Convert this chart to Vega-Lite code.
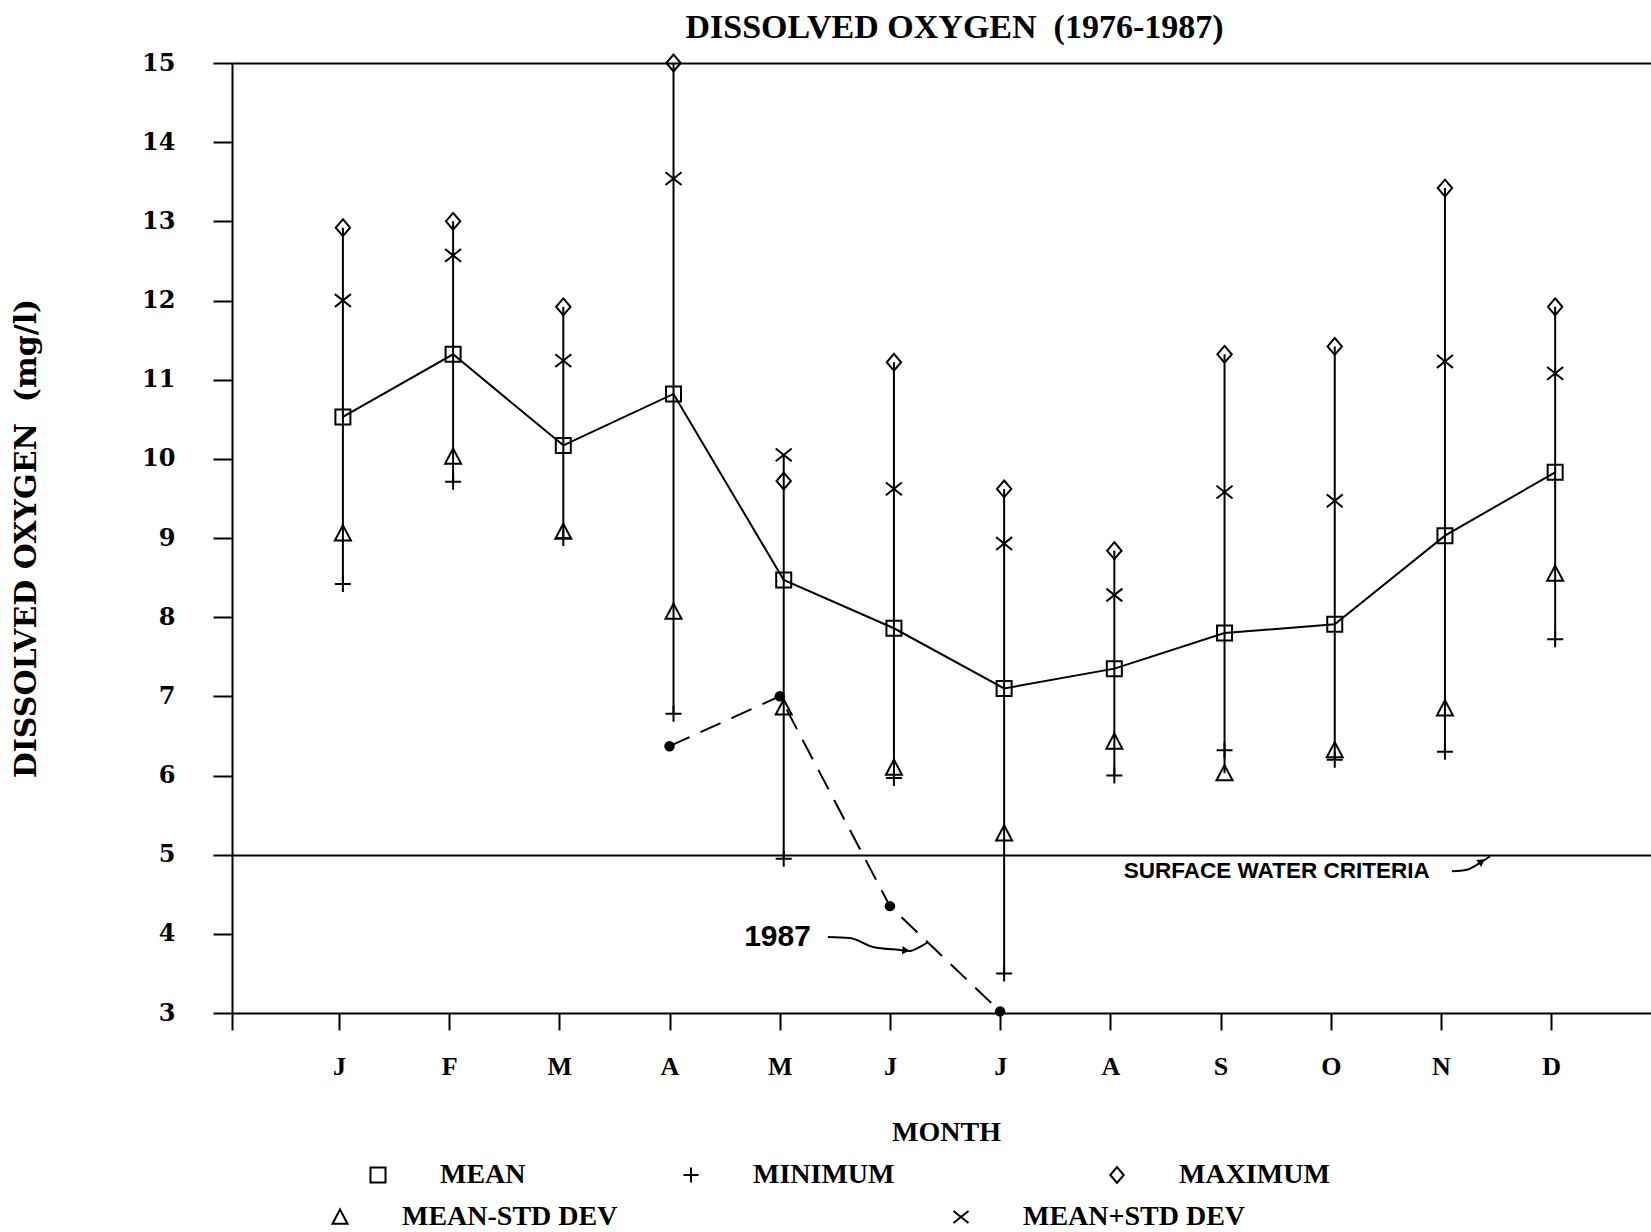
{
  "$schema": "https://vega.github.io/schema/vega-lite/v6.json",
  "width": 1419,
  "height": 950,
  "autosize": {"type": "none"},
  "padding": {"left": 232, "top": 63, "right": 0, "bottom": 219},
  "background": "white",
  "title": {"text": "DISSOLVED OXYGEN \u00a0(1976-1987)", "font": "Liberation Serif", "fontSize": 34, "fontWeight": "bold", "color": "black", "anchor": "middle", "dx": 13, "dy": 31, "offset": 10, "baseline": "alphabetic"},
  "datasets": {
    "stats": [
      {"m": 1, "series": "MEAN", "v": 10.53}, {"m": 1, "series": "MINIMUM", "v": 8.42}, {"m": 1, "series": "MAXIMUM", "v": 12.92}, {"m": 1, "series": "MEAN-STD DEV", "v": 9.06}, {"m": 1, "series": "MEAN+STD DEV", "v": 12.0},
      {"m": 2, "series": "MEAN", "v": 11.32}, {"m": 2, "series": "MINIMUM", "v": 9.71}, {"m": 2, "series": "MAXIMUM", "v": 13.0}, {"m": 2, "series": "MEAN-STD DEV", "v": 10.03}, {"m": 2, "series": "MEAN+STD DEV", "v": 12.57},
      {"m": 3, "series": "MEAN", "v": 10.17}, {"m": 3, "series": "MINIMUM", "v": 9.0}, {"m": 3, "series": "MAXIMUM", "v": 11.92}, {"m": 3, "series": "MEAN-STD DEV", "v": 9.08}, {"m": 3, "series": "MEAN+STD DEV", "v": 11.24},
      {"m": 4, "series": "MEAN", "v": 10.82}, {"m": 4, "series": "MINIMUM", "v": 6.78}, {"m": 4, "series": "MAXIMUM", "v": 15.0}, {"m": 4, "series": "MEAN-STD DEV", "v": 8.07}, {"m": 4, "series": "MEAN+STD DEV", "v": 13.54},
      {"m": 5, "series": "MEAN", "v": 8.47}, {"m": 5, "series": "MINIMUM", "v": 4.95}, {"m": 5, "series": "MAXIMUM", "v": 9.72}, {"m": 5, "series": "MEAN-STD DEV", "v": 6.86}, {"m": 5, "series": "MEAN+STD DEV", "v": 10.05},
      {"m": 6, "series": "MEAN", "v": 7.86}, {"m": 6, "series": "MINIMUM", "v": 5.97}, {"m": 6, "series": "MAXIMUM", "v": 11.22}, {"m": 6, "series": "MEAN-STD DEV", "v": 6.1}, {"m": 6, "series": "MEAN+STD DEV", "v": 9.62},
      {"m": 7, "series": "MEAN", "v": 7.1}, {"m": 7, "series": "MINIMUM", "v": 3.5}, {"m": 7, "series": "MAXIMUM", "v": 9.62}, {"m": 7, "series": "MEAN-STD DEV", "v": 5.27}, {"m": 7, "series": "MEAN+STD DEV", "v": 8.93},
      {"m": 8, "series": "MEAN", "v": 7.35}, {"m": 8, "series": "MINIMUM", "v": 6.0}, {"m": 8, "series": "MAXIMUM", "v": 8.84}, {"m": 8, "series": "MEAN-STD DEV", "v": 6.43}, {"m": 8, "series": "MEAN+STD DEV", "v": 8.28},
      {"m": 9, "series": "MEAN", "v": 7.8}, {"m": 9, "series": "MINIMUM", "v": 6.32}, {"m": 9, "series": "MAXIMUM", "v": 11.32}, {"m": 9, "series": "MEAN-STD DEV", "v": 6.03}, {"m": 9, "series": "MEAN+STD DEV", "v": 9.58},
      {"m": 10, "series": "MEAN", "v": 7.91}, {"m": 10, "series": "MINIMUM", "v": 6.2}, {"m": 10, "series": "MAXIMUM", "v": 11.42}, {"m": 10, "series": "MEAN-STD DEV", "v": 6.32}, {"m": 10, "series": "MEAN+STD DEV", "v": 9.47},
      {"m": 11, "series": "MEAN", "v": 9.03}, {"m": 11, "series": "MINIMUM", "v": 6.3}, {"m": 11, "series": "MAXIMUM", "v": 13.42}, {"m": 11, "series": "MEAN-STD DEV", "v": 6.85}, {"m": 11, "series": "MEAN+STD DEV", "v": 11.23},
      {"m": 12, "series": "MEAN", "v": 9.83}, {"m": 12, "series": "MINIMUM", "v": 7.72}, {"m": 12, "series": "MAXIMUM", "v": 11.92}, {"m": 12, "series": "MEAN-STD DEV", "v": 8.55}, {"m": 12, "series": "MEAN+STD DEV", "v": 11.08}
    ],
    "y1987": [{"m": 4, "v": 6.37}, {"m": 5, "v": 7.0}, {"m": 6, "v": 4.35}, {"m": 7, "v": 3.02}],
    "arrows": [
      {"g": "a", "o": 1, "m": 5.437, "v": 3.96}, {"g": "a", "o": 2, "m": 5.637, "v": 3.948}, {"g": "a", "o": 3, "m": 5.846, "v": 3.834}, {"g": "a", "o": 4, "m": 6.091, "v": 3.796}, {"g": "a", "o": 5, "m": 6.182, "v": 3.784}, {"g": "a", "o": 6, "m": 6.272, "v": 3.834}, {"g": "a", "o": 7, "m": 6.345, "v": 3.897},
      {"g": "b", "o": 1, "m": 11.1, "v": 4.79}, {"g": "b", "o": 2, "m": 11.236, "v": 4.81}, {"g": "b", "o": 3, "m": 11.336, "v": 4.88}, {"g": "b", "o": 4, "m": 11.445, "v": 4.98}
    ]
  },
  "encoding": {
    "x": {
      "field": "m", "type": "quantitative",
      "scale": {"domain": [0.03, 12.906], "nice": false, "zero": false},
      "axis": {
        "title": "MONTH", "values": [0.03, 1, 2, 3, 4, 5, 6, 7, 8, 9, 10, 11, 12],
        "labelExpr": "datum.value < 0.5 ? '' : ['J','F','M','A','M','J','J','A','S','O','N','D'][round(datum.value) - 1]",
        "grid": false, "domainColor": "black", "domainWidth": 2, "tickColor": "black", "tickWidth": 2, "tickSize": 17,
        "labelFont": "Liberation Serif", "labelFontWeight": "bold", "labelFontSize": 26, "labelColor": "black",
        "labelBaseline": "middle", "labelPadding": 36, "labelFlush": false, "labelOverlap": false,
        "titleFont": "Liberation Serif", "titleFontWeight": "bold", "titleFontSize": 28, "titleColor": "black",
        "titleBaseline": "middle", "titleX": 714, "titleY": 119, "titleAlign": "center"
      }
    },
    "y": {
      "field": "v", "type": "quantitative",
      "scale": {"domain": [3, 15], "nice": false, "zero": false},
      "axis": {
        "title": "DISSOLVED OXYGEN \u00a0(mg/l)", "values": [3, 4, 5, 6, 7, 8, 9, 10, 11, 12, 13, 14, 15],
        "grid": true, "gridColor": "black", "gridWidth": 2,
        "gridOpacity": {"condition": {"test": "datum.value === 5 || datum.value === 15", "value": 1}, "value": 0},
        "domainColor": "black", "domainWidth": 2, "tickColor": "black", "tickWidth": 2, "tickSize": 19,
        "labelFont": "DejaVu Serif", "labelFontWeight": "bold", "labelFontSize": 24, "labelColor": "black",
        "labelPadding": 38, "labelFlush": false, "labelOverlap": false,
        "titleFont": "DejaVu Serif", "titleFontWeight": "bold", "titleFontSize": 30, "titleColor": "black",
        "titleAngle": 270, "titleBaseline": "middle", "titleAlign": "center", "titleX": -206, "titleY": 475
      }
    }
  },
  "layer": [
    {
      "data": {"name": "stats"},
      "mark": {"type": "rule", "color": "black", "strokeWidth": 2, "xOffset": 4},
      "encoding": {
        "y": {"aggregate": "min", "field": "v", "type": "quantitative"},
        "y2": {"aggregate": "max", "field": "v"}
      }
    },
    {
      "data": {"name": "stats"},
      "transform": [{"filter": "datum.series === 'MEAN'"}],
      "mark": {"type": "line", "color": "black", "strokeWidth": 2, "xOffset": 4},
      "encoding": {}
    },
    {
      "data": {"name": "stats"},
      "transform": [{"filter": "datum.series === 'MEAN'"}],
      "mark": {"type": "point", "filled": false, "color": "black", "strokeWidth": 2, "size": 225, "opacity": 1, "xOffset": 4},
      "encoding": {"shape": {"field": "series", "type": "nominal", "scale": {"domain": ["MEAN"], "range": ["M-1,-1H1V1H-1Z"]}, "legend": {"title": null, "orient": "none", "legendX": 132, "legendY": 1098}}}
    },
    {
      "data": {"name": "stats"},
      "transform": [{"filter": "datum.series === 'MINIMUM'"}],
      "mark": {"type": "point", "filled": false, "color": "black", "strokeWidth": 2, "size": 256, "opacity": 1, "xOffset": 4},
      "encoding": {"shape": {"field": "series", "type": "nominal", "scale": {"domain": ["MINIMUM"], "range": ["M-1,0H1M0,-1V1"]}, "legend": {"title": null, "orient": "none", "legendX": 445, "legendY": 1098}}}
    },
    {
      "data": {"name": "stats"},
      "transform": [{"filter": "datum.series === 'MAXIMUM'"}],
      "mark": {"type": "point", "filled": false, "color": "black", "strokeWidth": 2, "size": 256, "opacity": 1, "xOffset": 4},
      "encoding": {"shape": {"field": "series", "type": "nominal", "scale": {"domain": ["MAXIMUM"], "range": ["M0,-1.05L0.9,0L0,1.05L-0.9,0Z"]}, "legend": {"title": null, "orient": "none", "legendX": 871, "legendY": 1098}}}
    },
    {
      "data": {"name": "stats"},
      "transform": [{"filter": "datum.series === 'MEAN-STD DEV'"}],
      "mark": {"type": "point", "filled": false, "color": "black", "strokeWidth": 2, "size": 256, "opacity": 1, "xOffset": 4},
      "encoding": {"shape": {"field": "series", "type": "nominal", "scale": {"domain": ["MEAN-STD DEV"], "range": ["M0,-1L1,0.9L-1,0.9Z"]}, "legend": {"title": null, "orient": "none", "legendX": 94, "legendY": 1140}}}
    },
    {
      "data": {"name": "stats"},
      "transform": [{"filter": "datum.series === 'MEAN+STD DEV'"}],
      "mark": {"type": "point", "filled": false, "color": "black", "strokeWidth": 2, "size": 256, "opacity": 1, "xOffset": 4},
      "encoding": {"shape": {"field": "series", "type": "nominal", "scale": {"domain": ["MEAN+STD DEV"], "range": ["M-1,-0.8L1,0.8M-1,0.8L1,-0.8"]}, "legend": {"title": null, "orient": "none", "legendX": 715, "legendY": 1140}}}
    },
    {
      "data": {"name": "y1987"},
      "mark": {"type": "line", "color": "black", "strokeWidth": 2, "strokeDash": [22, 12]},
      "encoding": {}
    },
    {
      "data": {"name": "y1987"},
      "mark": {"type": "circle", "color": "black", "size": 110, "opacity": 1},
      "encoding": {}
    },
    {
      "data": {"name": "arrows"},
      "mark": {"type": "line", "color": "black", "strokeWidth": 2, "interpolate": "monotone"},
      "encoding": {"detail": {"field": "g"}, "order": {"field": "o"}}
    },
    {
      "data": {"values": [{"m": 6.145, "v": 3.79}]},
      "mark": {"type": "point", "shape": "triangle-right", "filled": true, "color": "black", "size": 70, "opacity": 1, "angle": 5},
      "encoding": {}
    },
    {
      "data": {"values": [{"m": 11.37, "v": 4.915}]},
      "mark": {"type": "point", "shape": "triangle-right", "filled": true, "color": "black", "size": 70, "opacity": 1, "angle": -35},
      "encoding": {}
    },
    {
      "data": {"values": [{"m": 4.98, "v": 3.96, "label": "1987"}]},
      "mark": {"type": "text", "font": "Liberation Sans", "fontWeight": "bold", "fontSize": 30, "color": "black", "align": "center", "baseline": "middle"},
      "encoding": {"text": {"field": "label"}}
    },
    {
      "data": {"values": [{"m": 9.51, "v": 4.79, "label": "SURFACE WATER CRITERIA"}]},
      "mark": {"type": "text", "font": "Liberation Sans", "fontWeight": "bold", "fontSize": 22.5, "color": "black", "align": "center", "baseline": "middle"},
      "encoding": {"text": {"field": "label"}}
    }
  ],
  "resolve": {"scale": {"shape": "independent"}},
  "config": {
    "view": {"stroke": null},
    "legend": {
      "labelFont": "Liberation Serif", "labelFontWeight": "bold", "labelFontSize": 28, "labelColor": "black",
      "labelOffset": 48, "symbolStrokeColor": "black", "symbolStrokeWidth": 2, "symbolSize": 225,
      "symbolFillColor": "transparent", "padding": 0, "labelLimit": 400
    }
  }
}
